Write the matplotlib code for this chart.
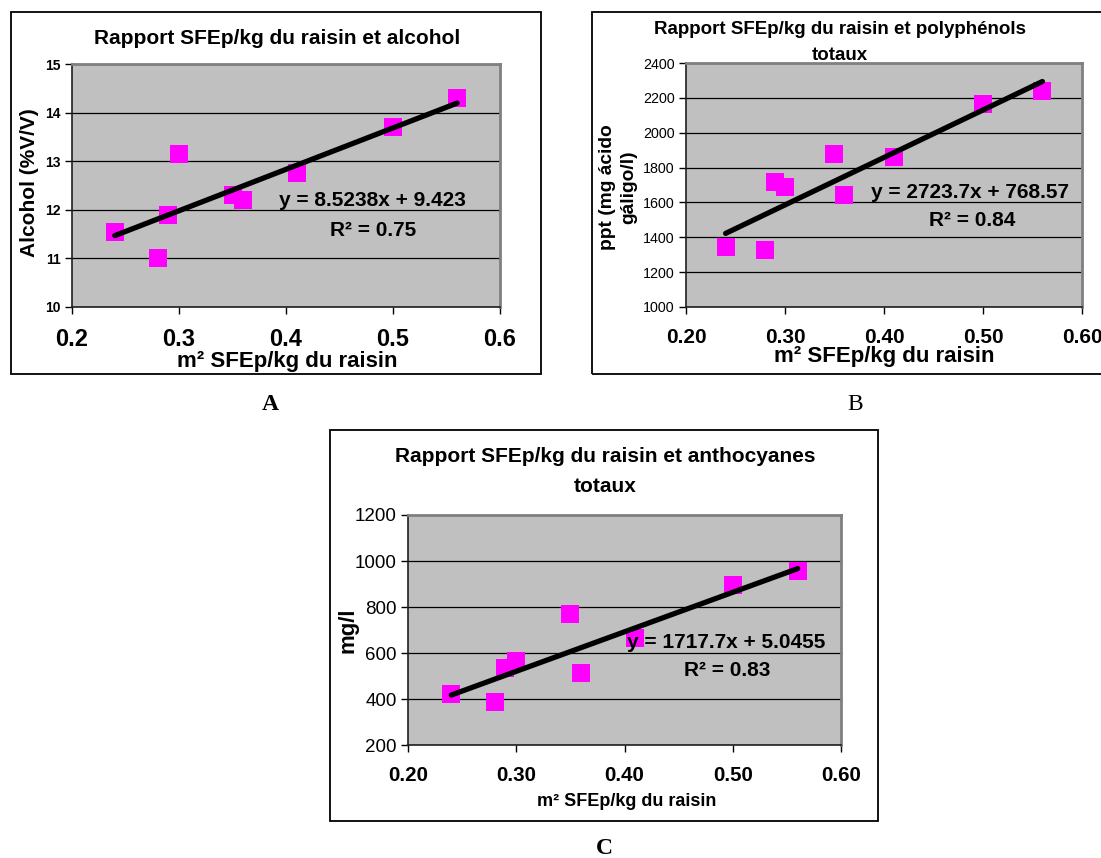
import numpy as np
import matplotlib
matplotlib.use("Agg")
import matplotlib.pyplot as plt
from matplotlib.patches import Rectangle

plt.rcParams['font.family'] = ['Liberation Sans', 'DejaVu Sans']

# surface / kg of grapes (same for all three panels)
sfe = [0.24, 0.28, 0.29, 0.30, 0.35, 0.36, 0.41, 0.50, 0.56]

# panel A - alcohol (%V/V)
alcohol = [11.55, 11.0, 11.9, 13.15, 12.3, 12.2, 12.75, 13.7, 14.3]
fit_a = (8.5238, 9.423)
# panel B - total polyphenols
polyphenols = [1345, 1325, 1720, 1690, 1880, 1640, 1860, 2165, 2240]
fit_b = (2723.7, 768.57)
# panel C - total anthocyanins
anthocyanins = [420, 385, 535, 565, 770, 515, 665, 895, 955]
fit_c = (1717.7, 5.0455)

W, H = 1101, 858
fig = plt.figure(figsize=(W / 100, H / 100), dpi=100)


def px_axes(left, top, right, bottom):
    return fig.add_axes([left / W, 1 - bottom / H, (right - left) / W, (bottom - top) / H])


def px_text(x, y, s, **kw):
    fig.text(x / W, 1 - y / H, s, ha='center', va='center', zorder=10, **kw)


def frame(left, top, right, bottom):
    fig.add_artist(Rectangle((left / W, 1 - bottom / H), (right - left) / W, (bottom - top) / H,
                             transform=fig.transFigure, fill=False, edgecolor='black', linewidth=1.3))


def panel(ax, yvals, fit, ylim, yticks, xfmt, yt_size, yt_weight, xt_size):
    ax.set_facecolor('#c0c0c0')
    ax.set_xlim(0.2, 0.6)
    ax.set_ylim(*ylim)
    ax.set_yticks(yticks)
    xt = np.arange(0.2, 0.61, 0.1)
    ax.set_xticks(xt)
    ax.set_xticklabels([xfmt % v for v in xt], fontsize=xt_size, fontweight='bold')
    ax.set_yticklabels([str(v) for v in yticks], fontsize=yt_size, fontweight=yt_weight)
    ax.yaxis.grid(True, color='black', linewidth=0.9)
    ax.set_axisbelow(True)
    for s in ['top', 'right']:
        ax.spines[s].set_color('#808080')
        ax.spines[s].set_linewidth(2)
    for s in ['left', 'bottom']:
        ax.spines[s].set_color('#202020')
        ax.spines[s].set_linewidth(1.2)
    ax.tick_params(direction='out', length=5, width=1, pad=3)
    ax.tick_params(axis='x', pad=10)
    ax.scatter(sfe, yvals, marker='s', s=150, color='#ff00ff', zorder=3, linewidths=0)
    xs = np.array([min(sfe), max(sfe)])
    ax.plot(xs, fit[0] * xs + fit[1], color='black', linewidth=3.8, solid_capstyle='round', zorder=4)


# ---- A ----
frame(11, 12, 541, 374)
axA = px_axes(72, 64, 500, 307)
panel(axA, alcohol, fit_a, (10, 15), [10, 11, 12, 13, 14, 15], '%.1f', 10, 'bold', 17)
px_text(277, 38, 'Rapport SFEp/kg du raisin et alcohol', fontsize=15, fontweight='bold')
px_text(287, 361, 'm² SFEp/kg du raisin', fontsize=16, fontweight='bold')
px_text(30, 183, 'Alcohol (%V/V)', fontsize=15, fontweight='bold', rotation=90)
px_text(372, 201, 'y = 8.5238x + 9.423', fontsize=15, fontweight='bold')
px_text(373, 231, 'R² = 0.75', fontsize=15, fontweight='bold')
px_text(270, 404, 'A', fontsize=17, fontweight='bold', family='Liberation Serif')

# ---- B ----
frame(592, 12, 1120, 374)
axB = px_axes(686, 63, 1082, 307)
panel(axB, polyphenols, fit_b, (1000, 2400), list(range(1000, 2401, 200)), '%.2f', 10.3, 'normal', 15)
px_text(840, 30, 'Rapport SFEp/kg du raisin et polyphénols', fontsize=13.5, fontweight='bold')
px_text(840, 55, 'totaux', fontsize=13.5, fontweight='bold')
px_text(884, 357, 'm² SFEp/kg du raisin', fontsize=16, fontweight='bold')
px_text(607, 187, 'ppt (mg ácido', fontsize=13.8, fontweight='bold', rotation=90)
px_text(629, 187, 'gáligo/l)', fontsize=13.8, fontweight='bold', rotation=90)
px_text(970, 192, 'y = 2723.7x + 768.57', fontsize=15, fontweight='bold')
px_text(972, 220, 'R² = 0.84', fontsize=15, fontweight='bold')
px_text(855, 404, 'B', fontsize=17, family='Liberation Serif')

# ---- C ----
frame(330, 430, 878, 821)
axC = px_axes(408, 515, 841, 745)
panel(axC, anthocyanins, fit_c, (200, 1200), list(range(200, 1201, 200)), '%.2f', 13.5, 'normal', 14.8)
px_text(605, 457, 'Rapport SFEp/kg du raisin et anthocyanes', fontsize=15, fontweight='bold')
px_text(605, 486, 'totaux', fontsize=15, fontweight='bold')
px_text(627, 802, 'm² SFEp/kg du raisin', fontsize=13, fontweight='bold')
px_text(348, 630, 'mg/l', fontsize=16, fontweight='bold', rotation=90)
px_text(726, 642, 'y = 1717.7x + 5.0455', fontsize=15, fontweight='bold')
px_text(727, 671, 'R² = 0.83', fontsize=15, fontweight='bold')
px_text(604, 848, 'C', fontsize=17, fontweight='bold', family='Liberation Serif')

fig.savefig('out.png', dpi=100)
